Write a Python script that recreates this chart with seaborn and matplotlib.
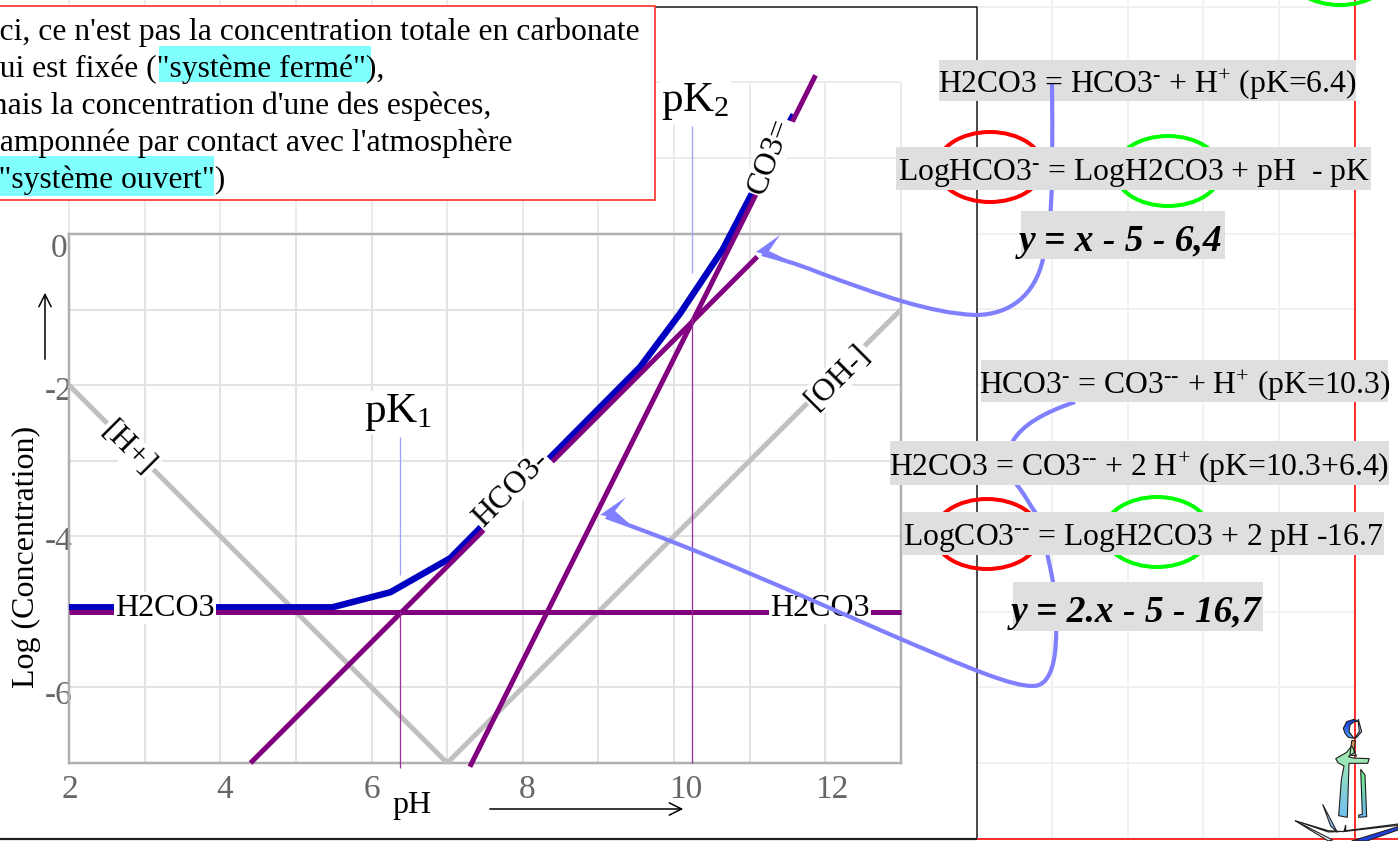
import numpy as np
import pandas as pd
import matplotlib
matplotlib.use("Agg")
import matplotlib.pyplot as plt
from matplotlib.patches import Ellipse, PathPatch, Polygon, Rectangle
from matplotlib.path import Path
from matplotlib.transforms import ScaledTranslation
import seaborn as sns

# ---------- data ----------
ph_h = [2, 7]
log_h = [-2, -7]
ph_oh = [7, 13]
log_oh = [-7, -1]
ph_h2co3 = [2, 13]
log_h2co3 = [-5, -5]
ph_hco3 = [4.4, 11.1]
log_hco3 = [-7.0, -0.3]
ph_co3 = [7.3, 11.87]
log_co3 = [-7.05, 2.1]
ph_total = [2, 5.48, 6.25, 7.04, 9.55, 10.08, 10.64, 11.0, 11.58]
log_total = [-4.94, -4.94, -4.74, -4.29, -1.76, -1.05, -0.21, 0.48, 1.58]
pk1 = 6.38
pk2 = 10.24

x_major = [2, 4, 6, 8, 10, 12]
x_minor = [3, 5, 7, 9, 11, 13]
y_major = [0, -2, -4, -6]
y_minor = [-1, -3, -5, -7]

box_lines = ["Ici, ce n'est pas la concentration totale en carbonate",
             "qui est fixée (\"système fermé\"),",
             "mais la concentration d'une des espèces,",
             "tamponnée par contact avec l'atmosphère",
             "(\"système ouvert\")"]
eq1 = r"H2CO3 = HCO3$^{\text{-}}$ + H$^{+}$ (pK=6.4)"
eq2 = r"LogHCO3$^{\text{-}}$ = LogH2CO3 + pH  - pK"
eq3 = "y = x - 5 - 6,4"
eq4 = r"HCO3$^{\text{-}}$ = CO3$^{\text{--}}$ + H$^{+}$ (pK=10.3)"
eq5 = r"H2CO3 = CO3$^{\text{--}}$ + 2 H$^{+}$ (pK=10.3+6.4)"
eq6 = r"LogCO3$^{\text{--}}$ = LogH2CO3 + 2 pH -16.7"
eq7 = "y = 2.x - 5 - 16,7"

# ---------- figure ----------
sns.set_theme(style="white")
plt.rcParams.update({
    "font.family": ["Liberation Serif", "DejaVu Serif"],
    "mathtext.fontset": "custom",
    "mathtext.rm": "Liberation Serif",
    "mathtext.it": "Liberation Serif:italic",
    "mathtext.bf": "Liberation Serif:bold",
    "mathtext.default": "regular",
    "lines.solid_capstyle": "butt",
})
W, H = 1398, 841
PX = 0.72
fig = plt.figure(figsize=(W / 100, H / 100), dpi=100, facecolor="white")


def overlay(z):
    a = fig.add_axes([0, 0, 1, 1], zorder=z)
    a.set_xlim(0, W)
    a.set_ylim(H, 0)
    a.axis("off")
    a.patch.set_visible(False)
    return a


bg = overlay(0)
fg = overlay(3)
L, R, T, B = 69, 901, 234, 763
ax = fig.add_axes([L / W, 1 - B / H, (R - L) / W, (B - T) / H], zorder=1)
ax.patch.set_visible(False)

# background grid outside the plot area
GL = "#EBEBEB"
GR = "#F1F1F1"
for xp in [69, 145, 220, 296, 372, 447, 523, 598, 674, 750, 825, 901]:
    bg.plot([xp, xp], [0 if xp < 450 else 82, T], color=GL, lw=2 * PX)
for yp in [82, 158]:
    bg.plot([69, 901], [yp, yp], color=GL, lw=2 * PX)
for xp in [1052, 1128, 1203, 1279]:
    bg.plot([xp, xp], [0, 838], color=GR, lw=2 * PX)
for yp in np.arange(7, 800, 75.6):
    bg.plot([977, 1355], [yp, yp], color=GR, lw=2 * PX)

# ---------- data lines ----------
def line(x, y, color, px):
    d = pd.DataFrame({"pH": x, "logC": y})
    sns.lineplot(data=d, x="pH", y="logC", ax=ax, color=color, lw=px * PX,
                 sort=False, estimator=None, clip_on=False, zorder=3)


line(ph_h, log_h, "#C0C0C0", 5)
line(ph_oh, log_oh, "#C0C0C0", 5)
line(ph_total, log_total, "#0000C0", 6.5)
line(ph_h2co3, log_h2co3, "#800080", 5)
line(ph_hco3, log_hco3, "#800080", 5)
line(ph_co3, log_co3, "#800080", 5)
line([pk1, pk1], [-5, -7.07], "#9A309A", 1.3)
line([pk2, pk2], [-1.1, -7], "#9A309A", 1.3)
line([pk1, pk1], [-4.51, -2.69], "#A0A0FF", 1.3)
line([pk2, pk2], [-0.52, 1.43], "#A0A0FF", 1.3)

ax.set_xlim(2, 13)
ax.set_ylim(-7, 0)
ax.set_xticks(x_major)
ax.set_xticks(x_minor, minor=True)
ax.set_yticks(y_major)
ax.set_yticks(y_minor, minor=True)
ax.grid(True, which="both", color="#E3E3E3", lw=2 * PX, zorder=0)
ax.set_axisbelow(True)
ax.tick_params(which="both", length=0)
ax.tick_params(axis="x", labelsize=24, labelcolor="#666666", pad=8)
ax.tick_params(axis="y", labelsize=24, labelcolor="#666666", pad=1)
for s in ax.spines.values():
    s.set_color("#B0B0B0")
    s.set_linewidth(2.5 * PX)
ax.set_xticklabels([str(v) for v in x_major])
ax.set_yticklabels([str(v) for v in y_major])
for lab, dx in zip(ax.get_xticklabels(), [1, 4, 0, 4, 12, 6]):
    lab.set_transform(lab.get_transform() + ScaledTranslation(dx / 100, 0, fig.dpi_scale_trans))
for lab, dx, dy in zip(ax.get_yticklabels(), [0, 5, 5, 5], [-11, -3, -2, -5]):
    lab.set_transform(lab.get_transform() + ScaledTranslation(dx / 100, dy / 100, fig.dpi_scale_trans))
ax.set_xlabel("pH", fontsize=23, color="black")
ax.set_ylabel("Log (Concentration)", fontsize=23, color="black")
ax.xaxis.set_label_coords((412 - L) / (R - L), (B - 806) / (B - T))
ax.xaxis.label.set_va("center")
ax.yaxis.set_label_coords((26 - L) / (R - L), (B - 557) / (B - T))
ax.yaxis.label.set_va("center")

white = dict(facecolor="white", edgecolor="none", pad=1)
lab_kw = dict(fontsize=23, color="black", ha="center", va="center",
              rotation_mode="anchor", bbox=white, zorder=5)
ax.text(3.27, -4.95, "H2CO3", **lab_kw)
ax.text(11.93, -4.95, "H2CO3", **lab_kw)
ax.text(7.85, -3.38, "HCO3-", rotation=45, **lab_kw)
ax.text(11.27, 1.02, "CO3=", rotation=70, **lab_kw)
ax.text(2.78, -2.84, "[H+]", rotation=-45, **lab_kw)
ax.text(12.17, -1.89, "[OH-]", rotation=45, **lab_kw)
pk_kw = dict(fontsize=31, color="black", ha="center", va="center", bbox=white, zorder=5)
ax.text(6.35, -2.36, "pK$_{1}$", **pk_kw)
ax.text(10.28, 1.75, "pK$_{2}$", **pk_kw)

# ---------- frames ----------
fg.plot([655, 977, 977], [7, 7, 838], color="#202020", lw=1.6 * PX, zorder=1)
fg.plot([0, 977], [838.5, 838.5], color="#202020", lw=2.2 * PX, zorder=1)
fg.plot([977, W], [838.5, 838.5], color="#FF3030", lw=2 * PX, zorder=1)
fg.plot([1355, 1355], [0, H], color="#FF3030", lw=2 * PX, zorder=1)

# ---------- note box ----------
fg.add_patch(Rectangle((-5, 6), 660, 194, fc="white", ec="#FF5050", lw=2 * PX, zorder=2))
fg.add_patch(Rectangle((159, 46), 212, 36, fc="#80FFFF", ec="none", zorder=2.1))
fg.add_patch(Rectangle((-5, 156), 219, 40, fc="#80FFFF", ec="none", zorder=2.1))
for s, yp, xp in zip(box_lines, [32, 69, 106, 143, 180], [-11, -16, -17, -9, -12]):
    fg.text(xp, yp, s, fontsize=22.8, color="black", ha="left", va="center", zorder=2.2)

# ---------- ellipses ----------
for cx, cy, col in [(990, 167, "#FF0000"), (1168, 171, "#00FF00"), (987, 534, "#FF0000"),
                    (1157, 532, "#00FF00"), (1340, -30, "#00FF00")]:
    fg.add_patch(Ellipse((cx, cy), 106, 70, fc="none", ec=col, lw=4 * PX, zorder=1.5))

# ---------- pale blue curves ----------
CURVE = "#8080FF"
C4 = Path.CURVE4
c1 = Path([(1052, 83), (1053, 200), (1052, 220), (1043, 259),
           (1035, 295), (1010, 315), (975, 315),
           (930, 313), (880, 295), (820, 273),
           (795, 263), (780, 259), (762, 254)],
          [Path.MOVETO] + [C4] * 12)
fg.add_patch(PathPatch(c1, fc="none", ec=CURVE, lw=4.2 * PX, zorder=4))
fg.add_patch(Polygon([(756, 252), (780, 235), (769, 251), (790, 261)], fc=CURVE, ec="none", zorder=4))

c2 = Path([(1075, 402), (1045, 412), (1022, 425), (1013, 441),
           (1005, 460), (1012, 478), (1017, 485),
           (1025, 495), (1030, 505), (1035, 512),
           (1042, 530), (1048, 555), (1053, 582),
           (1056, 610), (1064, 686), (1033, 686),
           (1012, 686), (977, 672), (880, 630),
           (800, 595), (700, 550), (606, 517)],
          [Path.MOVETO] + [C4] * 21)
fg.add_patch(PathPatch(c2, fc="none", ec=CURVE, lw=4.2 * PX, zorder=4))
fg.add_patch(Polygon([(600, 515), (626, 497), (615, 511), (632, 526), (612, 517)], fc=CURVE, ec="none", zorder=4))

# axis arrows
fg.annotate("", xy=(45, 290), xytext=(45, 362),
            arrowprops=dict(arrowstyle="->", color="black", lw=1.1, mutation_scale=22))
fg.annotate("", xy=(686, 809), xytext=(487, 809),
            arrowprops=dict(arrowstyle="->", color="black", lw=1.1, mutation_scale=22))

# ---------- grey equation boxes ----------
GREY = "#DFDFDF"
boxes = [(939, 60, 1356, 101, eq1, False), (896, 147, 1371, 190, eq2, False),
         (1021, 211, 1225, 259, eq3, True), (981, 360, 1388, 402, eq4, False),
         (890, 441, 1389, 485, eq5, False), (902, 512, 1384, 555, eq6, False),
         (1013, 582, 1263, 631, eq7, True)]
for i, (x0, y0, x1, y1, s, bold) in enumerate(boxes):
    z = 3 if i == 0 else 5
    fg.add_patch(Rectangle((x0, y0), x1 - x0, y1 - y0, fc=GREY, ec="none", zorder=z))
    fg.text((x0 + x1) / 2 - (2 if bold else 0), (y0 + y1) / 2 + (6 if bold else 4.5), s,
            ha="center", va="center",
            color="black", fontsize=27 if bold else 22.8,
            fontweight="bold" if bold else "normal",
            fontstyle="italic" if bold else "normal", zorder=6)

# ---------- anchor logo ----------
def pts(seq):
    return [(1200 + a / 3, 620 + b / 3) for a, b in seq]


def grad(seq, top, bottom):
    p = pts(seq)
    poly = Polygon(p, fc="none", ec="#202020", lw=0.8, zorder=7)
    fg.add_patch(poly)
    xs, ys = zip(*p)
    c0, c1_ = np.array(matplotlib.colors.to_rgb(top)), np.array(matplotlib.colors.to_rgb(bottom))
    t = np.linspace(0, 1, 64)[:, None, None]
    img = c0[None, None, :] * (1 - t) + c1_[None, None, :] * t
    im = fg.imshow(img, extent=(min(xs), max(xs), max(ys), min(ys)), aspect="auto", zorder=6.9)
    im.set_clip_path(Polygon(p, transform=fg.transData))


grad([(430, 325), (440, 305), (462, 298), (475, 304), (462, 305), (450, 315), (447, 335), (462, 355), (445, 352), (435, 340)],
     "#1030E0", "#50A0F0")
grad([(475, 298), (485, 335), (470, 352), (463, 355), (478, 335), (475, 310)], "#D0E0F0", "#80A8E0")
grad([(455, 362), (466, 362), (462, 395), (470, 408), (450, 405)], "#E08050", "#A0D0A0")
grad([(407, 416), (440, 397), (455, 378), (466, 396), (445, 410), (460, 414), (508, 416), (503, 430), (447, 430),
      (442, 592), (416, 587), (424, 480), (432, 438), (414, 428)], "#A8F0A8", "#70C0F0")
grad([(482, 448), (495, 465), (500, 590), (476, 592), (476, 585), (487, 583)], "#70F080", "#70B8F0")
grad([(368, 553), (412, 637), (392, 618)], "#FFFFFF", "#60A8F0")
grad([(285, 602), (385, 632), (432, 635), (437, 615), (437, 632), (594, 612), (594, 616), (437, 634), (385, 636)], "#FFFFFF", "#FFFFFF")
grad([(285, 602), (398, 660), (385, 663)], "#FFFFFF", "#E0E8F0")
grad([(455, 663), (594, 620), (594, 630), (500, 663)], "#2040E0", "#2040E0")
fg.set_xlim(0, W)
fg.set_ylim(H, 0)

fig.savefig("out.png", dpi=100, facecolor="white")
